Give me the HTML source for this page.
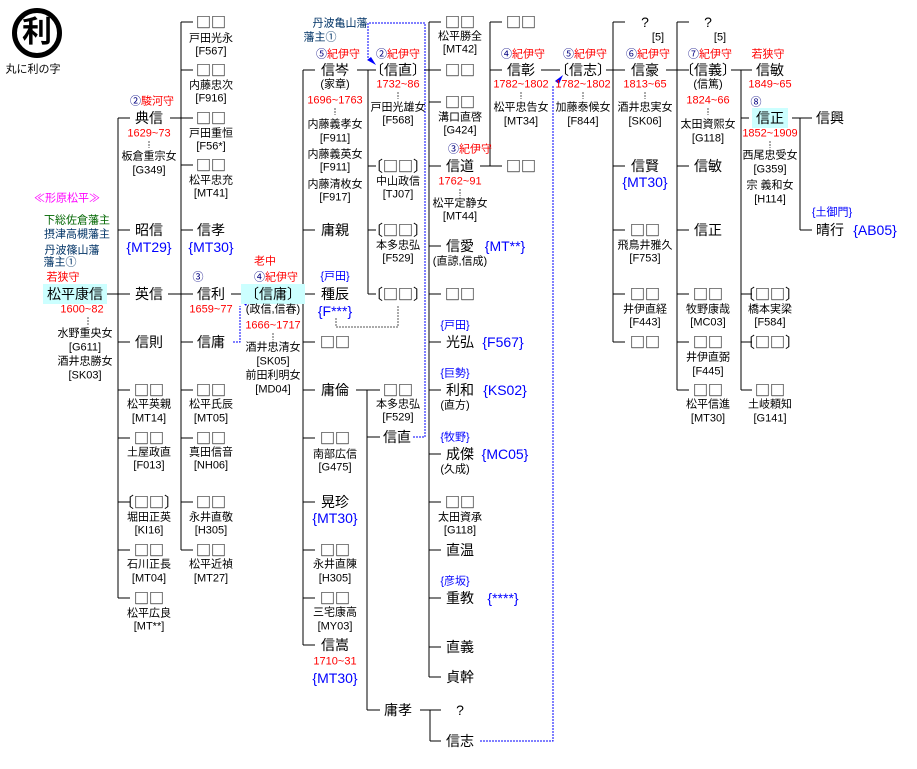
<!DOCTYPE html>
<html><head><meta charset="utf-8"><style>
html,body{margin:0;padding:0;background:#fff;}
body{width:917px;height:769px;position:relative;overflow:hidden;font-family:"Liberation Sans","Noto Sans CJK JP",sans-serif;color:#000;}
.t{position:absolute;transform:translate(-50%,-50%);white-space:nowrap;line-height:1;font-size:11px;}
.n{font-size:14px;}
.q{font-family:"Noto Sans CJK JP",sans-serif;font-size:15px;}
.r{color:#f00;font-size:11px;}
.b{color:#00f;}
.nv{color:#000080;}
.g{color:#006600;}
.db{color:#003366;}
.m{color:#ff00ff;}
.cy{background:#ccffff;padding:3px 4px;}
svg{position:absolute;left:0;top:0;}
</style></head><body>
<svg width="917" height="769">
<g stroke="#000" stroke-width="1" fill="none" shape-rendering="crispEdges">
<path d="M106 294H118M118 118V598M118 118H130M118 230H130M118 294H130M118 342H130M118 390H130M118 438H130M118 502H130M118 550H130M118 598H130"/>
<path d="M170 118H193M181 22V550M181 22H193M181 70H193M181 165H193M181 230H193M181 294H193M181 342H193M181 390H193M181 438H193M181 502H193M181 550H193M168 294H181"/>
<path d="M231 294H250M297 294H303M303 70V645M303 70H315M303 230H315M303 294H315M303 342H315M303 390H315M303 438H315M303 502H315M303 550H315M303 598H315M303 645H315"/>
<path d="M357 70H376M368 70V294M368 166H376M368 230H376M368 294H376"/>
<path d="M424 70H441M429 22V677M429 22H441M429 102H441M429 166H441M429 246H441M429 294H441M429 342H441M429 390H441M429 454H441M429 502H441M429 550H441M429 598H441M429 647H441M429 677H441"/>
<path d="M356 390H380M367 390V710M367 437H380M367 710H380M420 710H441M430 710V741M430 741H441"/>
<path d="M480 166H502M490 22V166M490 22H502M490 70H502M541 70H560M606 70H625M613 22V342M613 22H625M613 166H625M613 230H625M613 294H625M613 342H625"/>
<path d="M666 70H689M677 22V390M677 22H689M677 166H689M677 230H689M677 294H689M677 342H689M677 390H689M731 70H752M741 70V390M741 118H749M741 294H752M741 342H752M741 390H752M792 118H812M800 118V230M800 230H812"/>
</g>
<g stroke="#00f" stroke-width="1" fill="none" stroke-dasharray="2,1">
<path d="M233 342H240V306"/>
<path d="M413 437H425V23H368V58"/>
<path d="M480 741H553V86"/>
</g>
<g fill="#00f">
<polygon points="250,297 242,302 246,306"/>
<polygon points="376,65 367,60 371,57"/>
<polygon points="563,75 555,81 559,84"/>
</g>
<g stroke="#555" stroke-width="1" fill="none" stroke-dasharray="2,1">
<path d="M336 318V327H398V305"/>
<path d="M88 317V326M149 141V148M273 333V340M335 108V115M398 92V99M460 189V196M521 92V99M583 92V99M645 92V99M708 108V115M770 141V148"/>
</g>
<circle cx="37" cy="33" r="22.5" fill="none" stroke="#000" stroke-width="5"/>
</svg>
<div class="t" style="left:37px;top:33px;font-size:30px;font-weight:bold;">利</div>
<div class="t" style="left:33px;top:70px;">丸に利の字</div>

<div class="t m" style="left:67px;top:199px;">≪形原松平≫</div>
<div class="t g" style="left:77px;top:221px;">下総佐倉藩主</div>
<div class="t db" style="left:77px;top:235px;">摂津高槻藩主</div>
<div class="t db" style="left:72px;top:251px;">丹波篠山藩</div>
<div class="t db" style="left:60px;top:263px;">藩主①</div>
<div class="t r" style="left:63px;top:278px;">若狭守</div>
<div class="t n cy" style="left:75px;top:294px;">松平康信</div>
<div class="t r" style="left:82px;top:310px;">1600~82</div>
<div class="t" style="left:85px;top:334px;">水野重央女</div>
<div class="t" style="left:85px;top:348px;">[G611]</div>
<div class="t" style="left:85px;top:362px;">酒井忠勝女</div>
<div class="t" style="left:85px;top:376px;">[SK03]</div>

<div class="t r" style="left:152px;top:102px;"><span class="nv">②</span>駿河守</div>
<div class="t n" style="left:149px;top:118px;">典信</div>
<div class="t r" style="left:149px;top:134px;">1629~73</div>
<div class="t" style="left:149px;top:157px;">板倉重宗女</div>
<div class="t" style="left:149px;top:171px;">[G349]</div>
<div class="t n" style="left:149px;top:230px;">昭信</div>
<div class="t n b" style="left:149px;top:247px;">{MT29}</div>
<div class="t n" style="left:149px;top:294px;">英信</div>
<div class="t n" style="left:149px;top:342px;">信則</div>
<div class="t n q" style="left:149px;top:390px;">□□</div><div class="t" style="left:149px;top:405px;">松平英親</div><div class="t" style="left:149px;top:419px;">[MT14]</div>
<div class="t n q" style="left:149px;top:438px;">□□</div><div class="t" style="left:149px;top:453px;">土屋政直</div><div class="t" style="left:149px;top:466px;">[F013]</div>
<div class="t n q" style="left:149px;top:502px;">〔□□〕</div><div class="t" style="left:149px;top:518px;">堀田正英</div><div class="t" style="left:149px;top:531px;">[KI16]</div>
<div class="t n q" style="left:149px;top:550px;">□□</div><div class="t" style="left:149px;top:565px;">石川正長</div><div class="t" style="left:149px;top:579px;">[MT04]</div>
<div class="t n q" style="left:149px;top:598px;">□□</div><div class="t" style="left:149px;top:614px;">松平広良</div><div class="t" style="left:149px;top:627px;">[MT**]</div>

<div class="t n q" style="left:211px;top:22px;">□□</div><div class="t" style="left:211px;top:39px;">戸田光永</div><div class="t" style="left:211px;top:52px;">[F567]</div>
<div class="t n q" style="left:211px;top:70px;">□□</div><div class="t" style="left:211px;top:86px;">内藤忠次</div><div class="t" style="left:211px;top:99px;">[F916]</div>
<div class="t n q" style="left:211px;top:118px;">□□</div><div class="t" style="left:211px;top:134px;">戸田重恒</div><div class="t" style="left:211px;top:147px;">[F56*]</div>
<div class="t n q" style="left:211px;top:165px;">□□</div><div class="t" style="left:211px;top:181px;">松平忠充</div><div class="t" style="left:211px;top:194px;">[MT41]</div>
<div class="t n" style="left:211px;top:230px;">信孝</div><div class="t n b" style="left:211px;top:247px;">{MT30}</div>
<div class="t nv" style="left:198px;top:278px;">③</div>
<div class="t n" style="left:211px;top:294px;">信利</div><div class="t r" style="left:211px;top:310px;">1659~77</div>
<div class="t n" style="left:211px;top:342px;">信庸</div>
<div class="t n q" style="left:211px;top:390px;">□□</div><div class="t" style="left:211px;top:405px;">松平氏辰</div><div class="t" style="left:211px;top:419px;">[MT05]</div>
<div class="t n q" style="left:211px;top:438px;">□□</div><div class="t" style="left:211px;top:453px;">真田信音</div><div class="t" style="left:211px;top:466px;">[NH06]</div>
<div class="t n q" style="left:211px;top:502px;">□□</div><div class="t" style="left:211px;top:518px;">永井直敬</div><div class="t" style="left:211px;top:531px;">[H305]</div>
<div class="t n q" style="left:211px;top:550px;">□□</div><div class="t" style="left:211px;top:565px;">松平近禎</div><div class="t" style="left:211px;top:579px;">[MT27]</div>

<div class="t r" style="left:265px;top:262px;">老中</div>
<div class="t r" style="left:276px;top:278px;"><span class="nv">④</span>紀伊守</div>
<div class="t n cy" style="left:273px;top:294px;">〔信庸〕</div>
<div class="t" style="left:273px;top:310px;">(政信,信春)</div>
<div class="t r" style="left:273px;top:326px;">1666~1717</div>
<div class="t" style="left:273px;top:348px;">酒井忠清女</div>
<div class="t" style="left:273px;top:362px;">[SK05]</div>
<div class="t" style="left:273px;top:376px;">前田利明女</div>
<div class="t" style="left:273px;top:390px;">[MD04]</div>

<div class="t db" style="left:340px;top:24px;">丹波亀山藩</div>
<div class="t db" style="left:320px;top:38px;">藩主①</div>
<div class="t r" style="left:338px;top:55px;"><span class="nv">⑤</span>紀伊守</div>
<div class="t n" style="left:335px;top:70px;">信岑</div>
<div class="t" style="left:335px;top:85px;">(家章)</div>
<div class="t r" style="left:335px;top:101px;">1696~1763</div>
<div class="t" style="left:335px;top:125px;">内藤義孝女</div><div class="t" style="left:335px;top:139px;">[F911]</div>
<div class="t" style="left:335px;top:155px;">内藤義英女</div><div class="t" style="left:335px;top:168px;">[F911]</div>
<div class="t" style="left:335px;top:185px;">内藤清枚女</div><div class="t" style="left:335px;top:198px;">[F917]</div>
<div class="t n" style="left:335px;top:230px;">庸親</div>
<div class="t b" style="left:335px;top:277px;">{戸田}</div>
<div class="t n" style="left:335px;top:294px;">種辰</div>
<div class="t n b" style="left:335px;top:311px;">{F***}</div>
<div class="t n q" style="left:335px;top:342px;">□□</div>
<div class="t n" style="left:335px;top:390px;">庸倫</div>
<div class="t n q" style="left:335px;top:438px;">□□</div><div class="t" style="left:335px;top:455px;">南部広信</div><div class="t" style="left:335px;top:468px;">[G475]</div>
<div class="t n" style="left:335px;top:502px;">晃珍</div><div class="t n b" style="left:335px;top:518px;">{MT30}</div>
<div class="t n q" style="left:335px;top:550px;">□□</div><div class="t" style="left:335px;top:565px;">永井直陳</div><div class="t" style="left:335px;top:579px;">[H305]</div>
<div class="t n q" style="left:335px;top:598px;">□□</div><div class="t" style="left:335px;top:613px;">三宅康高</div><div class="t" style="left:335px;top:627px;">[MY03]</div>
<div class="t n" style="left:335px;top:645px;">信嵩</div><div class="t r" style="left:335px;top:662px;">1710~31</div><div class="t n b" style="left:335px;top:678px;">{MT30}</div>

<div class="t r" style="left:398px;top:55px;"><span class="nv">②</span>紀伊守</div>
<div class="t n" style="left:398px;top:70px;">〔信直〕</div>
<div class="t r" style="left:398px;top:85px;">1732~86</div>
<div class="t" style="left:398px;top:108px;">戸田光雄女</div><div class="t" style="left:398px;top:121px;">[F568]</div>
<div class="t n q" style="left:398px;top:166px;">〔□□〕</div><div class="t" style="left:398px;top:182px;">中山政信</div><div class="t" style="left:398px;top:195px;">[TJ07]</div>
<div class="t n q" style="left:398px;top:230px;">〔□□〕</div><div class="t" style="left:398px;top:246px;">本多忠弘</div><div class="t" style="left:398px;top:259px;">[F529]</div>
<div class="t n q" style="left:398px;top:294px;">〔□□〕</div>
<div class="t n q" style="left:398px;top:390px;">□□</div><div class="t" style="left:398px;top:405px;">本多忠弘</div><div class="t" style="left:398px;top:418px;">[F529]</div>
<div class="t n" style="left:397px;top:437px;">信直</div>
<div class="t n" style="left:398px;top:710px;">庸孝</div>

<div class="t n q" style="left:460px;top:22px;">□□</div><div class="t" style="left:460px;top:37px;">松平勝全</div><div class="t" style="left:460px;top:50px;">[MT42]</div>
<div class="t n q" style="left:460px;top:70px;">□□</div>
<div class="t n q" style="left:460px;top:102px;">□□</div><div class="t" style="left:460px;top:118px;">溝口直啓</div><div class="t" style="left:460px;top:131px;">[G424]</div>
<div class="t r" style="left:470px;top:150px;"><span class="nv">③</span>紀伊守</div>
<div class="t n" style="left:460px;top:166px;">信道</div>
<div class="t r" style="left:460px;top:182px;">1762~91</div>
<div class="t" style="left:460px;top:204px;">松平定静女</div><div class="t" style="left:460px;top:217px;">[MT44]</div>
<div class="t n" style="left:460px;top:246px;">信愛</div><div class="t n b" style="left:505px;top:246px;">{MT**}</div>
<div class="t" style="left:460px;top:262px;">(直諒,信成)</div>
<div class="t n q" style="left:460px;top:294px;">□□</div>
<div class="t b" style="left:455px;top:326px;">{戸田}</div>
<div class="t n" style="left:460px;top:342px;">光弘</div><div class="t n b" style="left:503px;top:342px;">{F567}</div>
<div class="t b" style="left:455px;top:374px;">{巨勢}</div>
<div class="t n" style="left:460px;top:390px;">利和</div><div class="t n b" style="left:505px;top:390px;">{KS02}</div>
<div class="t" style="left:455px;top:406px;">(直方)</div>
<div class="t b" style="left:455px;top:438px;">{牧野}</div>
<div class="t n" style="left:460px;top:454px;">成傑</div><div class="t n b" style="left:505px;top:454px;">{MC05}</div>
<div class="t" style="left:455px;top:470px;">(久成)</div>
<div class="t n q" style="left:460px;top:502px;">□□</div><div class="t" style="left:460px;top:518px;">太田資承</div><div class="t" style="left:460px;top:531px;">[G118]</div>
<div class="t n" style="left:460px;top:550px;">直温</div>
<div class="t b" style="left:455px;top:582px;">{彦坂}</div>
<div class="t n" style="left:460px;top:598px;">重教</div><div class="t n b" style="left:503px;top:598px;">{****}</div>
<div class="t n" style="left:460px;top:647px;">直義</div>
<div class="t n" style="left:460px;top:677px;">貞幹</div>
<div class="t n" style="left:460px;top:710px;">?</div>
<div class="t n" style="left:460px;top:741px;">信志</div>

<div class="t n q" style="left:521px;top:22px;">□□</div>
<div class="t r" style="left:523px;top:55px;"><span class="nv">④</span>紀伊守</div>
<div class="t n" style="left:521px;top:70px;">信彰</div>
<div class="t r" style="left:521px;top:85px;">1782~1802</div>
<div class="t" style="left:521px;top:108px;">松平忠告女</div><div class="t" style="left:521px;top:122px;">[MT34]</div>
<div class="t n q" style="left:521px;top:166px;">□□</div>

<div class="t r" style="left:585px;top:55px;"><span class="nv">⑤</span>紀伊守</div>
<div class="t n" style="left:583px;top:70px;">〔信志〕</div>
<div class="t r" style="left:583px;top:85px;">1782~1802</div>
<div class="t" style="left:583px;top:108px;">加藤泰候女</div><div class="t" style="left:583px;top:122px;">[F844]</div>

<div class="t n" style="left:645px;top:22px;">?</div><div class="t" style="left:658px;top:38px;">[5]</div>
<div class="t r" style="left:648px;top:55px;"><span class="nv">⑥</span>紀伊守</div>
<div class="t n" style="left:645px;top:70px;">信豪</div>
<div class="t r" style="left:645px;top:85px;">1813~65</div>
<div class="t" style="left:645px;top:108px;">酒井忠実女</div><div class="t" style="left:645px;top:122px;">[SK06]</div>
<div class="t n" style="left:645px;top:166px;">信賢</div><div class="t n b" style="left:645px;top:182px;">{MT30}</div>
<div class="t n q" style="left:645px;top:230px;">□□</div><div class="t" style="left:645px;top:246px;">飛鳥井雅久</div><div class="t" style="left:645px;top:259px;">[F753]</div>
<div class="t n q" style="left:645px;top:294px;">□□</div><div class="t" style="left:645px;top:310px;">井伊直経</div><div class="t" style="left:645px;top:323px;">[F443]</div>
<div class="t n q" style="left:645px;top:342px;">□□</div>

<div class="t n" style="left:708px;top:22px;">?</div><div class="t" style="left:720px;top:38px;">[5]</div>
<div class="t r" style="left:710px;top:55px;"><span class="nv">⑦</span>紀伊守</div>
<div class="t n" style="left:708px;top:70px;">〔信義〕</div>
<div class="t" style="left:708px;top:85px;">(信篤)</div>
<div class="t r" style="left:708px;top:101px;">1824~66</div>
<div class="t" style="left:708px;top:125px;">太田資熙女</div><div class="t" style="left:708px;top:139px;">[G118]</div>
<div class="t n" style="left:708px;top:166px;">信敏</div>
<div class="t n" style="left:708px;top:230px;">信正</div>
<div class="t n q" style="left:708px;top:294px;">□□</div><div class="t" style="left:708px;top:310px;">牧野康哉</div><div class="t" style="left:708px;top:323px;">[MC03]</div>
<div class="t n q" style="left:708px;top:342px;">□□</div><div class="t" style="left:708px;top:358px;">井伊直弼</div><div class="t" style="left:708px;top:372px;">[F445]</div>
<div class="t n q" style="left:708px;top:390px;">□□</div><div class="t" style="left:708px;top:405px;">松平信進</div><div class="t" style="left:708px;top:419px;">[MT30]</div>

<div class="t r" style="left:768px;top:55px;">若狭守</div>
<div class="t n" style="left:770px;top:70px;">信敏</div>
<div class="t r" style="left:770px;top:85px;">1849~65</div>
<div class="t nv" style="left:756px;top:103px;">⑧</div>
<div class="t n cy" style="left:770px;top:118px;">信正</div>
<div class="t r" style="left:770px;top:134px;">1852~1909</div>
<div class="t" style="left:770px;top:156px;">西尾忠受女</div><div class="t" style="left:770px;top:170px;">[G359]</div>
<div class="t" style="left:770px;top:186px;">宗 義和女</div><div class="t" style="left:770px;top:200px;">[H114]</div>
<div class="t n q" style="left:770px;top:294px;">〔□□〕</div><div class="t" style="left:770px;top:310px;">橋本実梁</div><div class="t" style="left:770px;top:323px;">[F584]</div>
<div class="t n q" style="left:770px;top:342px;">〔□□〕</div>
<div class="t n q" style="left:770px;top:390px;">□□</div><div class="t" style="left:770px;top:405px;">土岐頼知</div><div class="t" style="left:770px;top:419px;">[G141]</div>

<div class="t n" style="left:830px;top:118px;">信興</div>
<div class="t b" style="left:832px;top:213px;">{土御門}</div>
<div class="t n" style="left:830px;top:230px;">晴行</div><div class="t n b" style="left:875px;top:230px;">{AB05}</div>
</body></html>
